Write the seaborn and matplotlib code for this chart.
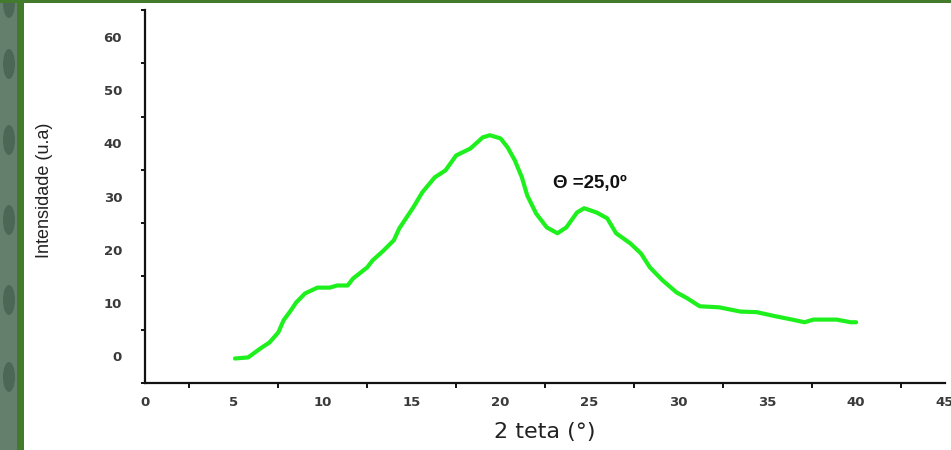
import numpy as np
import pandas as pd
import seaborn as sns
import matplotlib.pyplot as plt
from matplotlib.patches import Rectangle, Ellipse
from matplotlib.ticker import MultipleLocator

# Diffractogram: 2-theta angle (degrees) vs intensity (arbitrary units)
two_theta = [5.06, 5.8, 6.5, 7.0, 7.5, 7.8, 8.2, 8.5, 9.0, 9.7, 10.4, 10.8, 11.4,
             11.7, 12.5, 12.8, 13.4, 14.0, 14.3, 15.1, 15.6, 16.3, 16.9, 17.5,
             18.3, 19.0, 19.4, 20.0, 20.4, 20.8, 21.2, 21.5, 22.0, 22.6, 23.2,
             23.7, 24.3, 24.7, 25.4, 26.0, 26.5, 27.3, 27.9, 28.4, 29.1, 29.9,
             30.5, 31.2, 32.3, 33.5, 34.4, 35.5, 36.4, 37.1, 37.6, 38.9, 39.7, 40.0]
intensity = [-0.4, -0.2, 1.5, 2.6, 4.5, 6.8, 8.6, 10.1, 11.8, 12.9, 12.9, 13.3, 13.3,
             14.6, 16.7, 18.0, 19.8, 21.8, 24.0, 28.0, 30.8, 33.6, 34.9, 37.7,
             39.0, 41.1, 41.5, 40.9, 39.2, 36.8, 33.6, 30.2, 26.8, 24.2, 23.1,
             24.2, 27.0, 27.8, 27.0, 25.9, 23.1, 21.2, 19.3, 16.7, 14.3, 12.0,
             10.9, 9.4, 9.2, 8.4, 8.3, 7.5, 6.9, 6.4, 6.9, 6.9, 6.4, 6.4]

x_ticks = [0, 5, 10, 15, 20, 25, 30, 35, 40, 45]
y_ticks = [0, 10, 20, 30, 40, 50, 60]
peak_label = "Θ =25,0º"
peak_pos = (25.0, 32.5)

df = pd.DataFrame({"2 teta": two_theta, "Intensidade": intensity})

sns.set_style("white")
plt.rcParams["font.family"] = ["DejaVu Sans"]

fig = plt.figure(figsize=(9.51, 4.5), dpi=100)
fig.patch.set_facecolor("white")

# Decorative slide frame: textured strip, green bar on the left, green band on top
fig.patches.append(Rectangle((0, 0), 17 / 951, 1, transform=fig.transFigure,
                             facecolor="#647f6c", edgecolor="none", zorder=0))
for yc in [450 - 3, 450 - 64, 450 - 140, 450 - 220, 450 - 300, 450 - 377]:
    fig.patches.append(Ellipse((9 / 951, yc / 450), 12 / 951, 30 / 450,
                               transform=fig.transFigure, facecolor="#2f4a3a",
                               edgecolor="none", alpha=0.45, zorder=0))
fig.patches.append(Rectangle((17 / 951, 0), 7 / 951, 1, transform=fig.transFigure,
                             facecolor="#437a2c", edgecolor="none", zorder=0))
fig.patches.append(Rectangle((0, 1 - 3 / 450), 1, 3 / 450, transform=fig.transFigure,
                             facecolor="#437a2c", edgecolor="none", zorder=0))

ax = fig.add_axes([145 / 951, 1 - 383 / 450, 800 / 951, 373 / 450])
ax.set_facecolor("none")

sns.lineplot(data=df, x="2 teta", y="Intensidade", ax=ax, color="#1ef01e",
             linewidth=3.0, sort=False)

ax.set_xlim(0, 45)
ax.set_ylim(-5, 65)
ax.set_xticks(x_ticks)
ax.set_yticks(y_ticks)
ax.xaxis.set_minor_locator(MultipleLocator(2.5))
ax.yaxis.set_minor_locator(MultipleLocator(5))

for side in ["top", "right"]:
    ax.spines[side].set_visible(False)
for side in ["left", "bottom"]:
    ax.spines[side].set_color("#111111")
    ax.spines[side].set_linewidth(1.6)

ax.tick_params(axis="y", which="major", direction="out", length=7.5, width=1.6,
               color="#111111", pad=9, labelsize=9.5, labelcolor="#3a3a3a")
ax.tick_params(axis="y", which="minor", direction="out", length=3, width=1.4,
               color="#111111", left=True)
ax.tick_params(axis="x", which="major", direction="out", length=4.5, width=1.6,
               color="#111111", pad=5, labelsize=9.5, labelcolor="#3a3a3a")
ax.tick_params(axis="x", which="minor", direction="out", length=3.5, width=1.4,
               color="#111111", bottom=True)
for lab in ax.get_xticklabels() + ax.get_yticklabels():
    lab.set_fontweight("bold")

ax.set_xlabel("2 teta (°)", fontsize=16, color="#222222")
ax.xaxis.label.set_va("center")
ax.xaxis.set_label_coords(0.5, -0.131)

ax.set_ylabel("Intensidade (u.a)", fontsize=13, color="#222222",
              family=["Liberation Sans", "DejaVu Sans"])
ax.yaxis.label.set_va("center")
ax.yaxis.set_label_coords(-0.126, 0.517)

ax.text(peak_pos[0], peak_pos[1], peak_label, ha="center", va="center",
        fontsize=13.5, fontweight="bold", color="#111111",
        family=["Liberation Sans", "DejaVu Sans"])

fig.savefig("out.png", dpi=100)
